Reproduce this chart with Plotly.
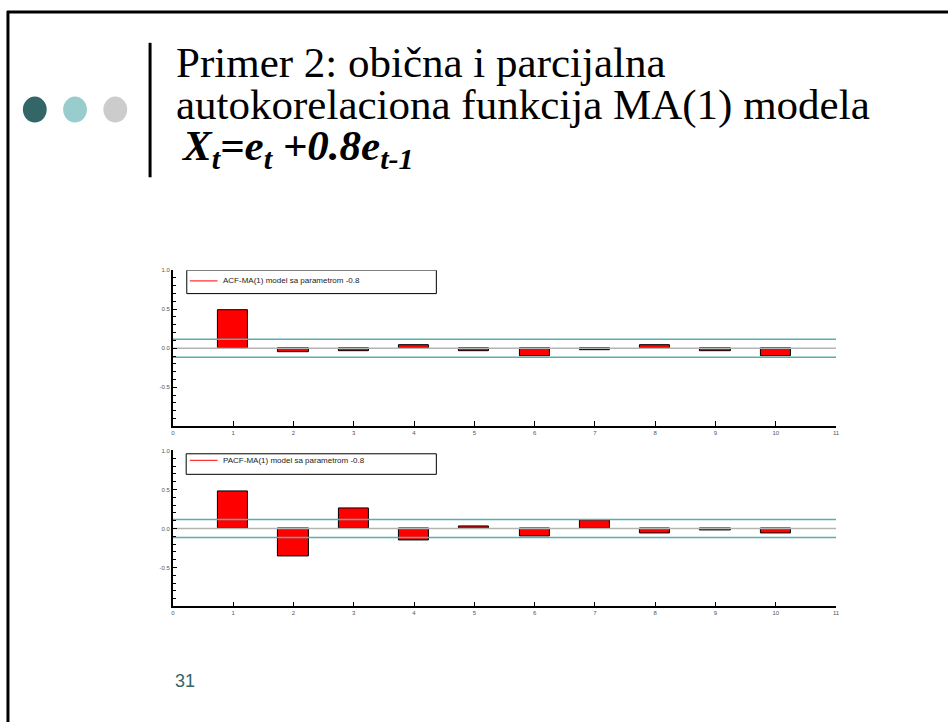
import plotly.graph_objects as go

# ---------------- data ----------------
lags = [1, 2, 3, 4, 5, 6, 7, 8, 9, 10]
acf_values = [0.481, -0.047, -0.034, 0.040, -0.035, -0.098, -0.027, 0.043, -0.035, -0.098]
pacf_values = [0.477, -0.357, 0.260, -0.148, 0.025, -0.100, 0.106, -0.068, -0.021, -0.060]
conf_limit = 0.115
x_ticks = [0, 1, 2, 3, 4, 5, 6, 7, 8, 9, 10, 11]
y_tickvals = [-0.5, 0.0, 0.5, 1.0]
y_ticktext = ["-0.5", "0.0", "0.5", "1.0"]
x_range = [0, 11]
y_range = [-1, 1]
acf_label = "ACF-MA(1) model sa parametrom -0.8"
pacf_label = "PACF-MA(1) model sa parametrom -0.8"
title_line1 = "Primer 2: obična i parcijalna"
title_line2 = "autokorelaciona funkcija MA(1) modela"
title_line3 = "<b><i>X<sub>t</sub>=e<sub>t</sub> +0.8e<sub>t-1</sub></i></b>"
slide_number = "31"

W, H = 952, 722


def px(x):
    return x / W


def py(y):
    return 1 - y / H


fig = go.Figure()

panels = [
    ("x", "y", acf_values),
    ("x2", "y2", pacf_values),
]

RED = "#ff0000"
TEAL = "#5aaeae"
GRAY = "#b4b4b4"

for xa, ya, vals in panels:
    fig.add_trace(go.Bar(x=lags, y=vals, width=0.5, xaxis=xa, yaxis=ya,
                         marker=dict(color=RED, line=dict(color="#000000", width=1))))
    fig.add_trace(go.Scatter(x=x_range, y=[0, 0], mode="lines", xaxis=xa, yaxis=ya,
                             line=dict(color=GRAY, width=1.5), hoverinfo="skip"))
    fig.add_trace(go.Scatter(x=x_range, y=[conf_limit, conf_limit], mode="lines", xaxis=xa, yaxis=ya,
                             line=dict(color=TEAL, width=1.5), hoverinfo="skip"))
    fig.add_trace(go.Scatter(x=x_range, y=[-conf_limit, -conf_limit], mode="lines", xaxis=xa, yaxis=ya,
                             line=dict(color=TEAL, width=1.5), hoverinfo="skip"))

x0px, x1px = 172.0, 839.3
tick_font = dict(family="Liberation Sans, Arial", size=6, color="#555555")
common_x = dict(range=x_range, tickvals=x_ticks, ticks="inside", ticklen=5, tickwidth=1,
                tickcolor="#000000", showgrid=False, zeroline=False, showline=True,
                linecolor="#000000", linewidth=1.5, tickfont=tick_font,
                domain=[px(x0px), px(x1px)], fixedrange=True)
common_y = dict(range=y_range, tickvals=y_tickvals, ticktext=y_ticktext, ticks="inside",
                ticklen=4, tickwidth=1, tickcolor="#000000", showgrid=False, zeroline=False,
                showline=True, linecolor="#000000", linewidth=1.5,
                minor=dict(dtick=0.1, ticks="inside", ticklen=3, tickwidth=1, tickcolor="#000000"),
                tickfont=tick_font, fixedrange=True)

fig.update_layout(
    xaxis=dict(**common_x, anchor="y"),
    yaxis=dict(**common_y, anchor="x", domain=[py(425.0), py(268.3)]),
    xaxis2=dict(**common_x, anchor="y2"),
    yaxis2=dict(**common_y, anchor="x2", domain=[py(606.0), py(449.3)]),
)

shapes = []
annotations = []

# legend boxes (in data coords of each panel)
legend_specs = [
    ("x", "y", acf_label, (0.23, 4.37, 0.70, 1.0), 0.864),
    ("x2", "y2", pacf_label, (0.22, 4.37, 0.694, 0.957), 0.872),
]
for xa, ya, label, (bx0, bx1, by0, by1), ly in legend_specs:
    shapes.append(dict(type="rect", xref=xa, yref=ya, x0=bx0, x1=bx1, y0=by0, y1=by1,
                       line=dict(color="#000000", width=1), fillcolor="#ffffff", layer="above"))
    shapes.append(dict(type="line", xref=xa, yref=ya, x0=0.28, x1=0.74, y0=ly, y1=ly,
                       line=dict(color="#ff3333", width=1.2), layer="above"))
    annotations.append(dict(xref=xa, yref=ya, x=0.79, y=ly, text=label, showarrow=False,
                            xanchor="left", yanchor="middle",
                            font=dict(family="Liberation Sans, Arial", size=8, color="#222222")))

# slide decorations
shapes.append(dict(type="line", xref="paper", yref="paper", x0=px(5), x1=px(952), y0=py(9), y1=py(9),
                   line=dict(color="#000000", width=3)))
shapes.append(dict(type="line", xref="paper", yref="paper", x0=px(6), x1=px(6), y0=py(8), y1=py(722),
                   line=dict(color="#000000", width=3)))
shapes.append(dict(type="line", xref="paper", yref="paper", x0=px(149), x1=px(149), y0=py(40), y1=py(175),
                   line=dict(color="#000000", width=3)))
for cx, col in [(33, "#336666"), (73.5, "#99cccc"), (114, "#cccccc")]:
    shapes.append(dict(type="circle", xref="paper", yref="paper", x0=px(cx - 12), x1=px(cx + 12),
                       y0=py(120), y1=py(94), fillcolor=col, line=dict(width=0)))

serif = "Liberation Serif, Times New Roman, serif"
annotations.append(dict(xref="paper", yref="paper", x=px(173), y=py(60), text=title_line1,
                        showarrow=False, xanchor="left", yanchor="middle",
                        font=dict(family=serif, size=43, color="#000000")))
annotations.append(dict(xref="paper", yref="paper", x=px(173), y=py(102), text=title_line2,
                        showarrow=False, xanchor="left", yanchor="middle",
                        font=dict(family=serif, size=43, color="#000000")))
annotations.append(dict(xref="paper", yref="paper", x=px(178), y=py(147), text=title_line3,
                        showarrow=False, xanchor="left", yanchor="middle",
                        font=dict(family=serif, size=43, color="#000000")))
annotations.append(dict(xref="paper", yref="paper", x=px(172), y=py(681), text=slide_number,
                        showarrow=False, xanchor="left", yanchor="middle",
                        font=dict(family="Liberation Sans, Arial", size=18, color="#336666")))

fig.update_layout(width=W, height=H, margin=dict(l=0, r=0, t=0, b=0),
                  paper_bgcolor="#ffffff", plot_bgcolor="#ffffff", showlegend=False,
                  shapes=shapes, annotations=annotations, bargap=0)

fig.write_html("out.html")
